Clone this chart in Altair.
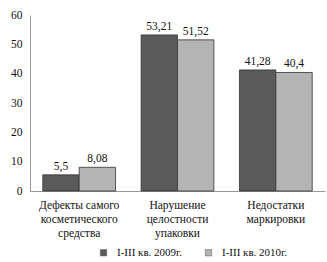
import altair as alt
import pandas as pd

categories = ["Дефекты самого\nкосметического\nсредства", "Нарушение\nцелостности\nупаковки", "Недостатки\nмаркировки"]
series = ["I-III кв. 2009г.", "I-III кв. 2010г."]
values_2009 = [5.5, 53.21, 41.28]
values_2010 = [8.08, 51.52, 40.4]
labels_2009 = ["5,5", "53,21", "41,28"]
labels_2010 = ["8,08", "51,52", "40,4"]

rows = []
for i, c in enumerate(categories):
    rows.append({"cat": c, "series": series[0], "value": values_2009[i], "label": labels_2009[i]})
    rows.append({"cat": c, "series": series[1], "value": values_2010[i], "label": labels_2010[i]})
df = pd.DataFrame(rows)

FONT = "Liberation Serif, Times New Roman, serif"

x = alt.X("cat:N", sort=categories, title=None,
          scale=alt.Scale(paddingInner=0.26, paddingOuter=0.13),
          axis=alt.Axis(labelExpr="split(datum.label, '\\n')", labelAngle=0, labelFontSize=11.5,
                        labelFont=FONT, labelColor="#111", labelLineHeight=14, labelPadding=8,
                        ticks=False, domainColor="#999", labelBaseline="top"))
xo = alt.XOffset("series:N", sort=series)
y = alt.Y("value:Q", title=None,
          scale=alt.Scale(domain=[0, 60]),
          axis=alt.Axis(values=[0, 10, 20, 30, 40, 50, 60], grid=False, ticks=False,
                        domainColor="#999", labelFont=FONT, labelFontSize=11.5,
                        labelColor="#111", labelPadding=8))

bars = alt.Chart(df).mark_bar(stroke="#333", strokeWidth=0.8).encode(
    x=x, xOffset=xo, y=y,
    color=alt.Color("series:N", sort=series,
                    scale=alt.Scale(domain=series, range=["#5a5a5a", "#b4b4b4"]),
                    legend=alt.Legend(title=None, orient="none", legendX=68, legendY=232,
                                      direction="horizontal", symbolType="square",
                                      symbolSize=40, symbolStrokeColor="#555", symbolStrokeWidth=0.5,
                                      labelFont=FONT, labelFontSize=11, labelColor="#111",
                                      columnPadding=20, labelOffset=8))
)

text = alt.Chart(df).mark_text(dy=-8, font=FONT, fontSize=11.5, color="#111").encode(
    x=x, xOffset=xo, y=y, text="label:N"
)

chart = (bars + text).properties(
    width=295, height=176,
    autosize=alt.AutoSizeParams(type="none"),
    padding={"left": 30, "top": 15, "right": 2, "bottom": 71},
).configure(background="white", font=FONT).configure_view(stroke=None)

chart.save("out.html", embed_options={"renderer": "svg", "actions": False})
